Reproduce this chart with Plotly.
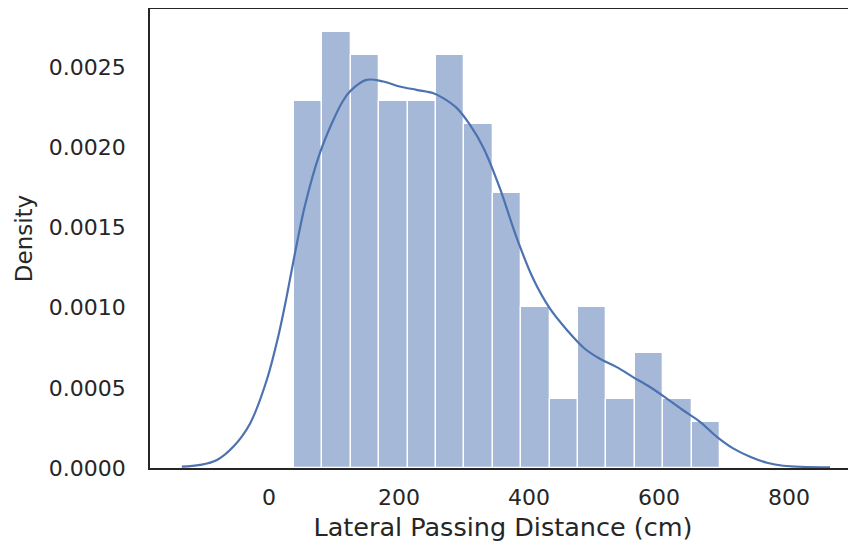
import plotly.graph_objects as go

# Histogram (density)
bin_centers = [60.35, 104.05, 147.75, 191.45, 235.15, 278.85, 322.55, 366.25,
               409.95, 453.65, 497.35, 541.05, 584.75, 628.45, 672.15]
bin_width = 43.7
bar_density = [0.002288, 0.002717, 0.002574, 0.002288, 0.002288, 0.002574,
               0.002145, 0.001716, 0.001001, 0.000429, 0.001001, 0.000429,
               0.000715, 0.000429, 0.000286]

# KDE curve
kde_x = [-134, -106, -80, -55, -29, -3.5, 14, 27, 32, 55, 78, 99, 114, 125,
         150, 176, 201, 227, 253, 268, 289, 309, 330, 355, 380, 407, 432, 458,
         484, 509, 535, 560, 586, 612, 637, 663, 689, 714, 740, 766, 791, 863]
kde_y = [0.000008, 0.000019, 0.00005, 0.000132, 0.000278, 0.000547, 0.000816,
         0.001064, 0.00117, 0.00163, 0.00196, 0.00217, 0.00229, 0.00235,
         0.00242, 0.00241, 0.002379, 0.002358, 0.002337, 0.002306, 0.002244,
         0.002141, 0.001996, 0.001747, 0.001447, 0.001175, 0.000995, 0.000862,
         0.000750, 0.000681, 0.000629, 0.000567, 0.000505, 0.000433, 0.00036,
         0.000288, 0.000194, 0.000122, 0.00007, 0.000033, 0.000014, 0.000004]

x_ticks = [0, 200, 400, 600, 800]
y_ticks = [0.0, 0.0005, 0.0010, 0.0015, 0.0020, 0.0025]
y_tick_text = ["0.0000", "0.0005", "0.0010", "0.0015", "0.0020", "0.0025"]

fig = go.Figure()
fig.add_trace(go.Bar(
    x=bin_centers, y=bar_density, width=[bin_width] * len(bin_centers),
    marker=dict(color="rgba(76,114,176,0.5)", line=dict(color="white", width=1.3)),
    hoverinfo="skip", showlegend=False,
))
fig.add_trace(go.Scatter(
    x=kde_x, y=kde_y, mode="lines", line=dict(color="#4C72B0", width=2.2, shape="spline", smoothing=1.0),
    hoverinfo="skip", showlegend=False,
))

tick_font = dict(family="DejaVu Sans", size=22, color="#262626")
fig.update_layout(
    width=848, height=538,
    margin=dict(l=142, r=0, t=1, b=78),
    plot_bgcolor="white", paper_bgcolor="white",
    bargap=0,
    font=dict(family="DejaVu Sans", color="#262626"),
    xaxis=dict(
        range=[-183, 903], tickvals=x_ticks, ticktext=[str(v) for v in x_ticks],
        showgrid=False, zeroline=False, showline=True, linecolor="#262626", linewidth=1.5,
        mirror=True, ticks="", tickfont=tick_font, ticklabelstandoff=9,
        title=dict(text="Lateral Passing Distance (cm)", font=dict(family="DejaVu Sans", size=25.5, color="#262626"), standoff=9),
    ),
    yaxis=dict(
        range=[0, 0.002862], tickvals=y_ticks, ticktext=y_tick_text,
        showgrid=False, zeroline=False, showline=True, linecolor="#262626", linewidth=1.5,
        mirror=False, ticks="", tickfont=tick_font, ticklabelstandoff=18,
        title=dict(text="Density", font=dict(family="DejaVu Sans", size=23, color="#262626"), standoff=10),
    ),
)

fig.write_html("out.html")
